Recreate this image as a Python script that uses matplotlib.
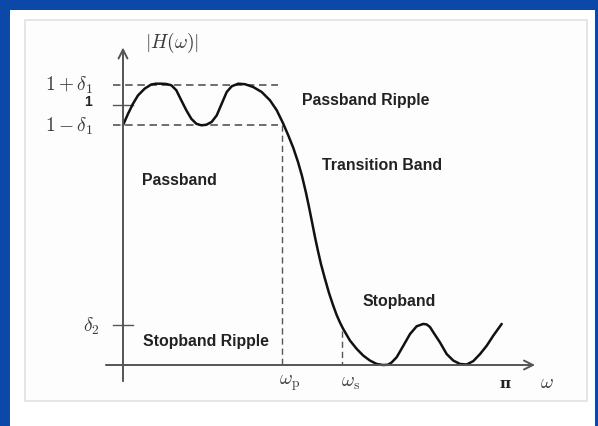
import numpy as np
import matplotlib
matplotlib.use("Agg")
import matplotlib.pyplot as plt
from matplotlib.patches import Rectangle

plt.rcParams['mathtext.fontset'] = 'cm'

# magnitude response, omega in units of pi
w_over_pi = [0.0000, 0.0131, 0.0262, 0.0393, 0.0568, 0.0741, 0.0864, 0.0995, 0.1126, 0.1264,
             0.1395, 0.1526, 0.1657, 0.1788, 0.1919, 0.2050, 0.2181, 0.2322, 0.2453, 0.2584,
             0.2715, 0.2846, 0.3018, 0.3194, 0.3411, 0.3631, 0.3848, 0.4024, 0.4196, 0.4327,
             0.4458, 0.4581, 0.4686, 0.4791, 0.4869, 0.4948, 0.5026, 0.5105, 0.5183, 0.5288,
             0.5393, 0.5497, 0.5594, 0.5681, 0.5767, 0.5942, 0.6118, 0.6291, 0.6466, 0.6641,
             0.6806, 0.6937, 0.7034, 0.7165, 0.7338, 0.7513, 0.7688, 0.7861, 0.7950, 0.8037,
             0.8123, 0.8298, 0.8474, 0.8647, 0.8822, 0.8997, 0.9170, 0.9346, 0.9521, 0.9694,
             0.9914]
mag = [0.922, 0.966, 1.005, 1.037, 1.063, 1.079, 1.082, 1.082, 1.081, 1.076,
       1.057, 1.018, 0.980, 0.947, 0.928, 0.922, 0.924, 0.935, 0.960, 1.005,
       1.050, 1.072, 1.082, 1.080, 1.069, 1.050, 1.018, 0.980, 0.928, 0.883,
       0.835, 0.781, 0.727, 0.662, 0.608, 0.550, 0.492, 0.438, 0.388, 0.331,
       0.277, 0.231, 0.192, 0.163, 0.138, 0.094, 0.062, 0.036, 0.017, 0.004,
       0.000, 0.001, 0.010, 0.030, 0.074, 0.119, 0.149, 0.158, 0.156, 0.146,
       0.126, 0.087, 0.042, 0.017, 0.004, 0.002, 0.015, 0.042, 0.074, 0.113,
       0.158]

delta1 = 0.078
delta2 = 0.154
wp = 0.416   # passband edge / pi
ws = 0.573   # stopband edge / pi

ytick_vals = [1 + delta1, 1.0, 1 - delta1, delta2]
ytick_labels = [r'$1+\delta_1$', '1', r'$1-\delta_1$', r'$\delta_2$']
xtick_vals = [wp, ws, 1.0]
xtick_labels = [r'$\omega_{\rm p}$', r'$\omega_{\rm s}$', 'π']

region_names = ['Passband', 'Passband Ripple', 'Transition Band', 'Stopband', 'Stopband Ripple']
region_pos = [(0.149, 0.712, 'center'), (0.469, 1.023, 'left'), (0.521, 0.773, 'left'),
              (0.626, 0.250, 'left'), (0.052, 0.096, 'left')]

blue = '#0b48a8'
gray = '#555555'
txt = '#3a3a3a'

fig = plt.figure(figsize=(5.98, 4.27), dpi=100, facecolor=blue)
fig.patches.append(Rectangle((10 / 598, 0), 585 / 598, 416 / 427, transform=fig.transFigure,
                             facecolor='white', edgecolor='none', zorder=0))
fig.patches.append(Rectangle((25 / 598, 25 / 427), 562 / 598, 381 / 427, transform=fig.transFigure,
                             facecolor='#fdfdfd', edgecolor='#e2e2e2', lw=1.2, zorder=0))

ax = fig.add_axes([0, 0, 1, 1], zorder=2)
ax.set_xlim(-0.322, 1.2435)
ax.set_ylim(-0.2346, 1.4077)
ax.axis('off')

# axes with arrows
ax.annotate('', xy=(1.086, 0), xytext=(-0.052, 0),
            arrowprops=dict(arrowstyle='->', color=gray, lw=1.4, mutation_scale=16))
ax.annotate('', xy=(0, 1.232), xytext=(0, -0.073),
            arrowprops=dict(arrowstyle='->', color=gray, lw=1.4, mutation_scale=16))

# tolerance lines
for yv in [1 + delta1, 1 - delta1]:
    ax.plot([-0.026, 0.405], [yv, yv], color=gray, lw=1.2, dashes=(4.5, 2.8))
ax.plot([wp, wp], [1 - delta1, 0], color=gray, lw=1.0, dashes=(4.5, 2.8))
ax.plot([ws, ws], [0.131, 0], color=gray, lw=1.0, dashes=(4.5, 2.8))
for yv in [1.0, delta2]:
    ax.plot([-0.026, 0.026], [yv, yv], color=gray, lw=1.0)

ax.plot(w_over_pi, mag, color='#111111', lw=1.8, solid_capstyle='round', solid_joinstyle='round')

# tick labels
for yv, lab in zip(ytick_vals, ytick_labels):
    if lab == '1':
        ax.text(-0.082, yv + 0.015, lab, ha='right', va='center', fontsize=10,
                fontweight='bold', family='Liberation Sans', color='#222222')
    else:
        xr = -0.060 if lab == r'$\delta_2$' else -0.079
        ax.text(xr, yv, lab, ha='right', va='center', fontsize=14, color=txt)
for xv, lab in zip(xtick_vals, xtick_labels):
    if lab == 'π':
        ax.text(xv, -0.068, lab, ha='center', va='center', fontsize=11,
                fontweight='bold', family='DejaVu Serif', color='#222222')
    else:
        off = 0.019 if xv == wp else 0.024
        ax.text(xv + off, -0.065, lab, ha='center', va='center', fontsize=14, color=txt)
ax.text(1.11, -0.065, r'$\omega$', ha='center', va='center', fontsize=14, color=txt)
ax.text(0.128, 1.242, r'$|H(\omega)|$', ha='center', va='center', fontsize=14, color=txt)

for name, (x, y, ha) in zip(region_names, region_pos):
    ax.text(x, y, name, ha=ha, va='center', fontsize=11.4, fontweight='bold',
            family='Liberation Sans', color='#222222')

fig.savefig('out.png', dpi=100, facecolor=blue)
